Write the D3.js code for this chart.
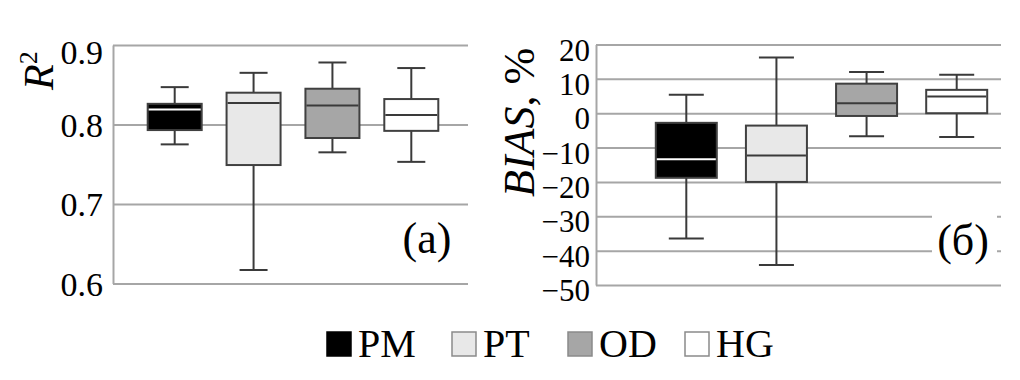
<!DOCTYPE html>
<html>
<head>
<meta charset="utf-8">
<script src="https://cdn.jsdelivr.net/npm/d3@7"></script>
<style>
  body { margin: 0; background: #fff; }
</style>
</head>
<body>
<svg id="chart" width="1020" height="380"></svg>
<script>
// categories and box statistics
const categories = ['PM', 'PT', 'OD', 'HG'];
const fills = ['#000000', '#e8e8e8', '#a6a6a6', '#ffffff'];

const r2Min = [0.775, 0.617, 0.765, 0.753];
const r2Q1 = [0.793, 0.749, 0.783, 0.792];
const r2Med = [0.819, 0.827, 0.824, 0.812];
const r2Q3 = [0.826, 0.840, 0.845, 0.832];
const r2Max = [0.847, 0.865, 0.878, 0.871];
const r2Ticks = [0.6, 0.7, 0.8, 0.9];
const r2TickLabels = ['0.6', '0.7', '0.8', '0.9'];

const biasMin = [-36.5, -44.2, -6.7, -6.9];
const biasQ1 = [-18.8, -20.0, -0.8, 0.0];
const biasMed = [-13.4, -12.3, 2.9, 4.9];
const biasQ3 = [-2.8, -3.6, 8.6, 6.8];
const biasMax = [5.4, 16.2, 12.0, 11.2];
const biasTicks = [-50, -40, -30, -20, -10, 0, 10, 20];
const biasTickLabels = ['\u221250', '\u221240', '\u221230', '\u221220', '\u221210', '0', '10', '20'];

const FONT = 'Liberation Serif';
const svg = d3.select('#chart');
const gridColor = '#a6a6a6';
const lineColor = '#3a3a3a';

function panel(opt) {
    const y = d3.scaleLinear().domain(opt.domain).range([opt.bottom, opt.top]);
    const x = d3.scalePoint().domain(categories).range(opt.centers);
    const g = svg.append('g');

    // gridlines + left axis line
    const axis = d3.axisLeft(y)
        .tickValues(opt.ticks)
        .tickSize(-(opt.right - opt.left))
        .tickSizeOuter(0)
        .tickPadding(opt.pad)
        .tickFormat((d, i) => opt.labels[i]);
    const ag = g.append('g')
        .attr('transform', `translate(${opt.left},0)`)
        .call(axis)
        .attr('font-family', FONT)
        .attr('font-size', opt.fontSize);
    ag.select('.domain').attr('stroke', gridColor).attr('stroke-width', 2);
    ag.selectAll('.tick line').attr('stroke', gridColor).attr('stroke-width', 2);
    ag.selectAll('.tick text')
        .attr('fill', '#000')
        .attr('font-family', FONT)
        .attr('font-size', opt.fontSize)
        .attr('dy', d => {
            let off = opt.shift;
            if (y(d) - opt.top < 8) off += opt.topShift;
            return (opt.fontSize * 0.34 + off) + 'px';
        });

    // panel label with white knock-out behind it
    if (opt.knock) {
        g.append('rect')
            .attr('x', opt.knock[0]).attr('y', opt.knock[1])
            .attr('width', opt.knock[2]).attr('height', opt.knock[3])
            .attr('fill', '#fff');
    }
    g.append('text')
        .attr('x', opt.tag[0]).attr('y', opt.tag[1])
        .attr('text-anchor', 'middle')
        .attr('font-family', FONT)
        .attr('font-size', 44)
        .text(opt.tag[2]);

    // boxes
    const bw = opt.boxWidth, cw = opt.capWidth;
    const boxes = g.selectAll('.box').data(categories).enter().append('g');
    boxes.each(function (c, i) {
        const b = d3.select(this);
        const cx = x(c);
        b.append('line')
            .attr('x1', cx).attr('x2', cx)
            .attr('y1', y(opt.max[i])).attr('y2', y(opt.q3[i]))
            .attr('stroke', lineColor).attr('stroke-width', 2);
        b.append('line')
            .attr('x1', cx).attr('x2', cx)
            .attr('y1', y(opt.q1[i])).attr('y2', y(opt.min[i]))
            .attr('stroke', lineColor).attr('stroke-width', 2);
        [opt.max[i], opt.min[i]].forEach(v => {
            b.append('line')
                .attr('x1', cx - cw / 2).attr('x2', cx + cw / 2)
                .attr('y1', y(v)).attr('y2', y(v))
                .attr('stroke', lineColor).attr('stroke-width', 2);
        });
        b.append('rect')
            .attr('x', cx - bw / 2).attr('width', bw)
            .attr('y', y(opt.q3[i])).attr('height', y(opt.q1[i]) - y(opt.q3[i]))
            .attr('fill', fills[i])
            .attr('stroke', '#404040').attr('stroke-width', 2);
        b.append('line')
            .attr('x1', cx - bw / 2 + 1).attr('x2', cx + bw / 2 - 1)
            .attr('y1', y(opt.med[i])).attr('y2', y(opt.med[i]))
            .attr('stroke', i === 0 ? '#ffffff' : lineColor).attr('stroke-width', 2);
    });
    return g;
}

panel({
    domain: [0.6, 0.9], top: 45, bottom: 283.5, left: 113, right: 468,
    centers: [174.7, 411.3], ticks: r2Ticks, labels: r2TickLabels, pad: 10,
    fontSize: 34, shift: 0, topShift: 7,
    min: r2Min, q1: r2Q1, med: r2Med, q3: r2Q3, max: r2Max,
    boxWidth: 54, capWidth: 28, tag: [427, 253, '(a)']
});

panel({
    domain: [-50, 20], top: 44.5, bottom: 285, left: 596, right: 1001,
    centers: [686.3, 956.7], ticks: biasTicks, labels: biasTickLabels, pad: 6,
    fontSize: 31, shift: 5, topShift: 0,
    min: biasMin, q1: biasQ1, med: biasMed, q3: biasQ3, max: biasMax,
    boxWidth: 61, capWidth: 35, tag: [963, 255, '(\u0431)'],
    knock: [932, 208, 65, 56]
});

// axis titles
const t1 = svg.append('text')
    .attr('transform', 'translate(53,90) rotate(-90)')
    .attr('font-family', FONT)
    .attr('font-size', 42);
t1.append('tspan').attr('font-style', 'italic').text('R');
t1.append('tspan').attr('dy', -16).attr('font-size', 26).text('2');

const t2 = svg.append('text')
    .attr('transform', 'translate(534,197) rotate(-90)')
    .attr('font-family', FONT)
    .attr('font-size', 44);
t2.append('tspan').attr('font-style', 'italic').text('BIAS');
t2.append('tspan').text(', %');

// legend
const legendX = [327, 452, 568, 685];
const leg = svg.append('g').selectAll('g').data(categories).enter().append('g')
    .attr('transform', (d, i) => `translate(${legendX[i]},332)`);
leg.append('rect')
    .attr('width', 24).attr('height', 24)
    .attr('fill', (d, i) => fills[i])
    .attr('stroke', (d, i) => i === 0 ? '#000' : '#8a8a8a')
    .attr('stroke-width', 1.5);
leg.append('text')
    .attr('x', 31).attr('y', 25)
    .attr('font-family', FONT)
    .attr('font-size', 40)
    .text(d => d);
</script>
</body>
</html>
